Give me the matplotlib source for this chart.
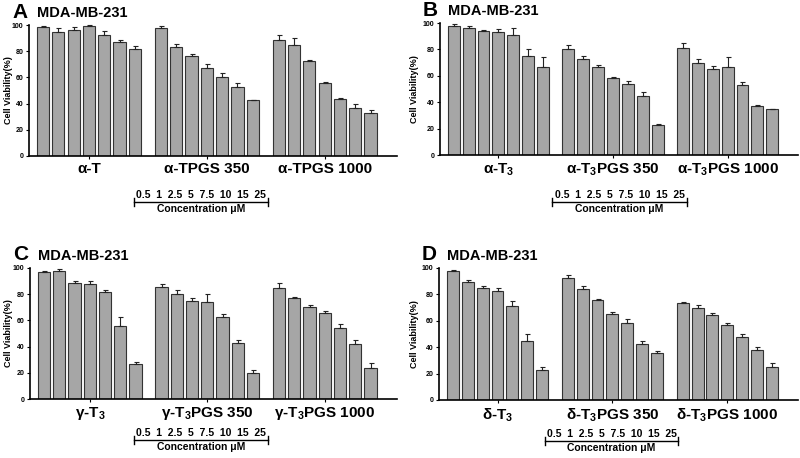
import numpy as np
import matplotlib
matplotlib.use("Agg")
import matplotlib.pyplot as plt
from matplotlib.lines import Line2D

plt.rcParams["font.family"] = ["Liberation Sans", "DejaVu Sans"]
plt.rcParams["font.weight"] = "bold"
plt.rcParams["mathtext.fontset"] = "custom"
plt.rcParams["mathtext.rm"] = "Liberation Sans:bold"
plt.rcParams["mathtext.it"] = "Liberation Sans:bold"
plt.rcParams["mathtext.bf"] = "Liberation Sans:bold"

# concentrations (uM), same for every group
conc_labels = ["0.5", "1", "2.5", "5", "7.5", "10", "15", "25"]
cell_line = "MDA-MB-231"

# panel A
a_groups = ["α-T", "α-TPGS 350", "α-TPGS 1000"]
a_vals = [[98.2, 94.9, 96.4, 99.5, 92.5, 87.0, 81.6],
          [97.5, 83.0, 76.0, 67.5, 60.0, 52.5, 42.5],
          [88.5, 85.0, 72.5, 56.0, 43.5, 37.0, 33.0]]
a_err = [[1.0, 3.0, 2.0, 0.5, 3.0, 1.5, 2.0],
         [1.5, 2.5, 2.0, 3.0, 3.0, 3.0, 0.5],
         [4.0, 5.0, 1.0, 0.5, 0.5, 3.0, 2.0]]

# panel B
b_groups = ["α-T$_3$", "α-T$_3$PGS 350", "α-T$_3$PGS 1000"]
b_vals = [[98.0, 96.5, 94.0, 93.0, 91.0, 75.0, 66.5],
          [80.0, 73.0, 66.5, 58.0, 53.5, 44.5, 22.5],
          [81.0, 70.0, 65.5, 67.0, 53.0, 37.5, 34.5]]
b_err = [[1.5, 1.5, 1.0, 2.5, 5.0, 5.0, 8.0],
         [3.5, 2.0, 1.5, 1.0, 2.5, 3.5, 1.0],
         [3.5, 2.5, 2.0, 7.0, 2.5, 0.5, 0.3]]

# panel C
c_groups = ["γ-T$_3$", "γ-T$_3$PGS 350", "γ-T$_3$PGS 1000"]
c_vals = [[97.0, 98.0, 88.5, 88.0, 82.0, 56.0, 27.0],
          [85.5, 80.5, 75.0, 74.0, 62.5, 42.5, 20.0],
          [84.5, 77.0, 70.0, 65.5, 54.5, 42.0, 24.0]]
c_err = [[1.0, 1.5, 1.5, 2.0, 1.5, 6.5, 1.0],
         [2.5, 2.5, 2.0, 6.5, 2.5, 2.5, 2.0],
         [4.0, 1.0, 1.5, 2.0, 3.0, 3.0, 3.5]]

# panel D
d_groups = ["δ-T$_3$", "δ-T$_3$PGS 350", "δ-T$_3$PGS 1000"]
d_vals = [[98.0, 89.5, 84.5, 82.5, 71.0, 45.0, 22.5],
          [92.5, 84.0, 75.5, 65.0, 58.0, 42.5, 35.5],
          [73.5, 70.0, 64.5, 57.0, 48.0, 38.0, 25.0]]
d_err = [[0.5, 1.5, 1.5, 2.5, 4.0, 5.0, 2.5],
         [2.5, 2.5, 1.0, 2.0, 3.0, 2.5, 2.0],
         [1.0, 2.0, 1.5, 1.5, 2.0, 2.0, 3.0]]

W, H = 800, 458
fig = plt.figure(figsize=(W / 100, H / 100), dpi=100)

GROUP_STEP = 7.7
BAR_COLOR = "#a6a6a6"
EDGE = "#333333"


def px_axes(left, top, right, bottom):
    return fig.add_axes([left / W, 1 - bottom / H, (right - left) / W, (bottom - top) / H])


def draw_panel(letter, box, groups, vals, errs, bracket, label_px):
    ax = px_axes(*box)
    for g, (v, e) in enumerate(zip(vals, errs)):
        x = g * GROUP_STEP + np.arange(len(v))
        ax.bar(x, v, width=0.8, color=BAR_COLOR, edgecolor=EDGE, linewidth=0.8, zorder=2)
        ax.errorbar(x, v, yerr=[np.zeros(len(e)), e], fmt="none", ecolor="#222222",
                    elinewidth=0.8, capsize=1.8, capthick=0.8, zorder=3, clip_on=False)
    ax.set_xlim(-0.92, 23.13)
    ax.set_ylim(0, 100)
    ax.set_yticks([0, 20, 40, 60, 80, 100])
    ax.tick_params(axis="y", labelsize=5, length=2.5, width=0.8, pad=1.5)
    ax.set_xticks([g * GROUP_STEP + 3 for g in range(3)])
    ax.set_xticklabels(groups, fontsize=11, fontweight="bold")
    ax.tick_params(axis="x", length=2.5, width=0.8, pad=2)
    for side in ["top", "right"]:
        ax.spines[side].set_visible(False)
    for side in ["left", "bottom"]:
        ax.spines[side].set_linewidth(1.2)
    ax.set_ylabel("Cell Viability(%)", fontsize=6.5, fontweight="bold")
    # x here is the right edge of the rotated label
    ax.yaxis.set_label_coords((label_px - box[0]) / (box[2] - box[0]), 0.5)

    left, top = box[0], box[1]
    fig.text((left - 17) / W, 1 - (top - 13) / H, letter, fontsize=15, fontweight="bold",
             ha="left", va="center")
    fig.text((left + 8) / W, 1 - (top - 12) / H, cell_line, fontsize=10.5, fontweight="bold",
             ha="left", va="center")

    # concentration bracket under the middle group
    x0, x1, yb = bracket
    tf = fig.transFigure
    fig.add_artist(Line2D([x0 / W, x1 / W], [1 - yb / H, 1 - yb / H], color="black", lw=1.0, transform=tf))
    for xx in (x0, x1):
        fig.add_artist(Line2D([xx / W, xx / W], [1 - (yb - 4) / H, 1 - (yb + 4) / H],
                              color="black", lw=1.0, transform=tf))
    fig.text((x0 + x1) / 2 / W, 1 - (yb - 7) / H, "  ".join(conc_labels), fontsize=7.5,
             fontweight="bold", ha="center", va="center")
    fig.text((x0 + x1) / 2 / W, 1 - (yb + 7) / H, "Concentration μM", fontsize=7.5,
             fontweight="bold", ha="center", va="center")


draw_panel("A", (29, 25, 397, 156), a_groups, a_vals, a_err, (134, 268, 202), 13)
draw_panel("B", (440, 23, 798, 155), b_groups, b_vals, b_err, (552, 687, 202), 419)
draw_panel("C", (30, 268, 397, 399), c_groups, c_vals, c_err, (134, 268, 440), 13)
draw_panel("D", (439, 268, 798, 400), d_groups, d_vals, d_err, (545, 678, 441), 419)

fig.savefig("out.png", dpi=100)
